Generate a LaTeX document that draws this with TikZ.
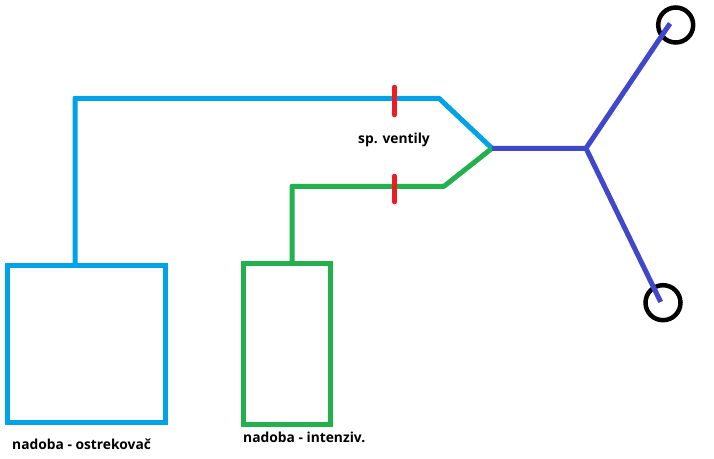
\documentclass[tikz,border=0pt]{standalone}
\usepackage{fontspec}
\setmainfont{Open Sans}
\definecolor{tankblue}{HTML}{00A2E8}
\definecolor{tankgreen}{HTML}{22B14C}
\definecolor{valvered}{HTML}{ED1C24}
\definecolor{hosepurple}{HTML}{3F48CC}
\tikzset{
	tank/.style={draw=#1,line width=5pt,inner sep=0pt,outer sep=0pt,rectangle},
	hose/.style={draw=#1,line width=5pt,line join=round},
	valve/.style={draw=valvered,line width=4.5pt,line cap=round},
	nozzle/.style={draw=black,line width=4.5pt,circle,minimum size=35pt,inner sep=0pt,outer sep=0pt},
	caption/.style={font=\bfseries\fontsize{13.8}{15}\selectfont,text=black,inner sep=0pt,anchor=west}
}
\begin{document}
\begin{tikzpicture}[x=1pt,y=-1pt]
	\useasboundingbox (0,0) rectangle (714,458);
	% tanks
	\node[tank=tankblue,minimum width=158pt,minimum height=157pt] (ostrekovac) at (86.5,344) {};
	\node[tank=tankgreen,minimum width=87pt,minimum height=161pt] (intenziv) at (287,344) {};
	% nozzles
	\node[nozzle] (nozzleup) at (675.7,25) {};
	\node[nozzle] (nozzledown) at (663,302.7) {};
	% points on the hoses
	\coordinate (bluestart) at (75,265.5);
	\coordinate (bluecorner) at (75,98.3);
	\coordinate (blueend) at (439,98.3);
	\coordinate (greenstart) at (292,263.5);
	\coordinate (greencorner) at (292,186.3);
	\coordinate (greenend) at (444,186.3);
	\coordinate (merge) at (492,148.3);
	\coordinate (fork) at (586,148.3);
	\coordinate (tipup) at (670,23.5);
	\coordinate (tipdown) at (660.7,302);
	\draw[hose=tankblue] (bluestart) -- (bluecorner) -- (blueend) -- (merge);
	\draw[hose=tankgreen] (greenstart) -- (greencorner) -- (greenend) -- (merge);
	\draw[hose=hosepurple] (merge) -- (fork) -- (tipup);
	\draw[hose=hosepurple] (fork) -- (tipdown);
	% valves
	\coordinate (valveAtop) at (394.5,87);
	\coordinate (valveAbot) at (394.5,115);
	\coordinate (valveBtop) at (394.5,176);
	\coordinate (valveBbot) at (394.5,202);
	\draw[valve] (valveAtop) -- (valveAbot);
	\draw[valve] (valveBtop) -- (valveBbot);
	% texts
	\node[caption] (ventily) at (358,139.5) {sp. ventily};
	\node[caption] (ostrekovaclabel) at (12,444.5) {nadoba - ostrekovač};
	\node[caption] (intenzivlabel) at (243,437.5) {nadoba - intenziv.};
\end{tikzpicture}
\end{document}
